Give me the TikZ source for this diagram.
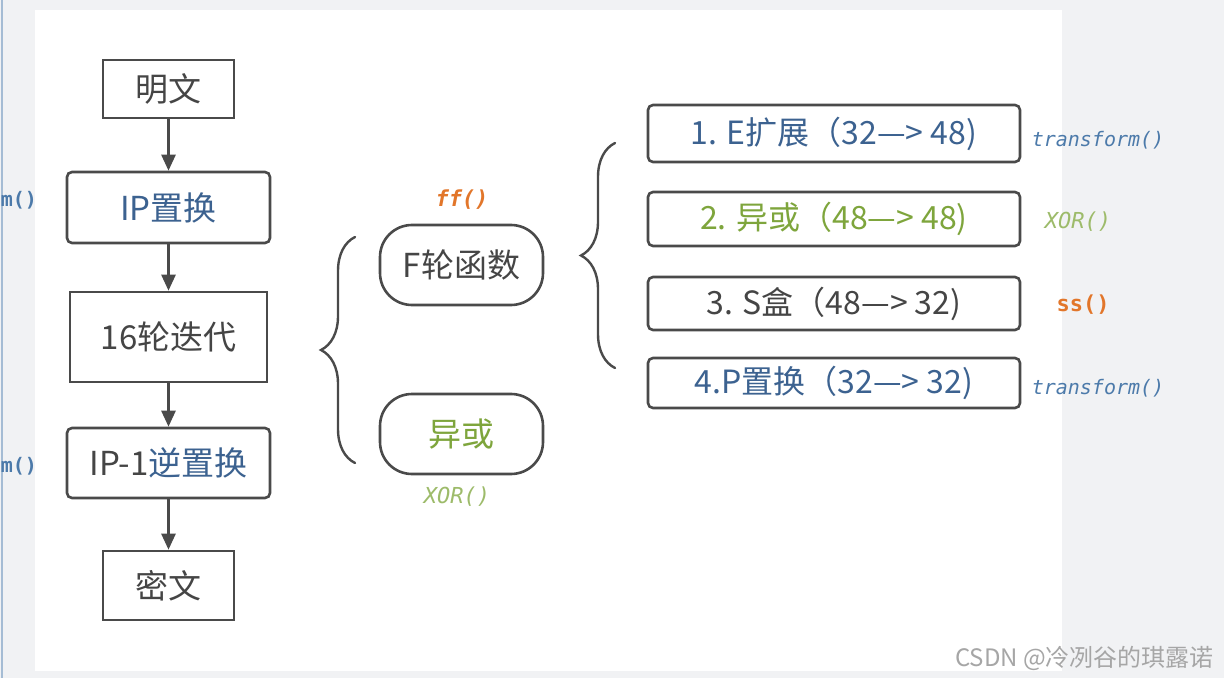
\documentclass[tikz,border=0pt]{standalone}
\usepackage{fontspec}
\setmainfont{Noto Sans CJK SC}
\newfontfamily\codefont{DejaVu Sans Mono}
\usetikzlibrary{arrows.meta, positioning, decorations.pathreplacing}

\definecolor{linegray}{HTML}{4A4A4A}
\definecolor{txtgray}{HTML}{454545}
\definecolor{txtblue}{HTML}{3C6290}
\definecolor{codeblue}{HTML}{4C7AAA}
\definecolor{txtgreen}{HTML}{7EA53C}
\definecolor{codegreen}{HTML}{9DBB6A}
\definecolor{txtorange}{HTML}{E2762A}
\definecolor{sidegray}{HTML}{F1F2F4}

\tikzset{
  box/.style={draw=linegray, line width=1.3pt, inner sep=0pt, text=txtgray,
    font=\fontsize{16.5}{19}\selectfont},
  pill/.style={box, rounded corners=16pt, minimum width=81.5pt, minimum height=40pt},
  stepbox/.style={box, rounded corners=2.5pt, minimum width=186pt,
    font=\fontsize{16}{19}\selectfont},
  code/.style={font=\codefont\itshape\fontsize{10}{12}\selectfont, text=codeblue},
  arr/.style={-{Triangle[width=7pt,length=8pt]}, line width=1.3pt, draw=linegray},
  curly/.style={decorate, decoration={brace, amplitude=17pt, aspect=0.5},
    line width=1.2pt, draw=linegray}
}

\begin{document}
\begin{tikzpicture}[x=0.5pt, y=-0.5pt, line cap=round]

  %--- sfondo
  \clip (0,0) rectangle (1224,678);
  \fill[sidegray] (0,0) rectangle (1224,678);
  \fill[white] (35,10) rectangle (1062,671);
  \draw[codeblue!50, line width=0.8pt] (2,0) -- (2,678);

  %--- colonna di sinistra
  \node[box, minimum width=65.5pt, minimum height=29pt] (mingwen) at (168.5,89) {明文};
  \node[box, rounded corners=2.5pt, minimum width=101.5pt, minimum height=35.5pt, text=txtblue]
    (ipperm) at (168.5,207.5) {IP置换};
  \node[box, minimum width=98.5pt, minimum height=45pt] (rounds) at (168.5,337) {16轮迭代};
  \node[box, rounded corners=2.5pt, minimum width=101.5pt, minimum height=35pt]
    (ipinv) at (168.5,463) {IP-1\textcolor{txtblue}{逆置换}};
  \node[box, minimum width=65.5pt, minimum height=34.5pt] (miwen) at (168.5,585.5) {密文};

  \draw[arr] (mingwen) -- (ipperm);
  \draw[arr] (ipperm) -- (rounds);
  \draw[arr] (rounds) -- (ipinv);
  \draw[arr] (ipinv) -- (miwen);

  % etichette al bordo sinistro
  \node[code, font=\codefont\bfseries\fontsize{10}{12}\selectfont, anchor=east] (lcode1) at (44,200) {m()};
  \node[code, font=\codefont\bfseries\fontsize{10}{12}\selectfont, anchor=east] (lcode2) at (44,466) {m()};

  %--- graffa centrale
  \draw[curly] (355,463) -- (355,237);
  \node[pill] (ffunc) at (461.5,265) {F轮函数};
  \node[pill, text=txtgreen] (xorbox) at (461.5,434) {异或};
  \node[code, font=\codefont\bfseries\itshape\fontsize{11}{13}\selectfont, text=txtorange]
    (ffcode) at (462,200) {ff()};
  \node[code, text=codegreen, font=\codefont\itshape\fontsize{11}{13}\selectfont]
    (xorcode) at (457,497) {XOR()};

  %--- graffa di destra
  \draw[curly] (615,368) -- (615,143);
  \node[stepbox, minimum height=28.5pt, text=txtblue] (ext) at (834,133.5) {1. E扩展（32—> 48)};
  \node[stepbox, minimum height=27pt, text=txtgreen] (xor2) at (834,219) {2. 异或（48—> 48)};
  \node[stepbox, minimum height=26.5pt] (sbox) at (834,303.5) {3. S盒（48—> 32)};
  \node[stepbox, minimum height=25pt, text=txtblue] (pperm) at (834,383) {4.P置换（32—> 32)};

  \node[code] (code1) at (1098,140) {transform()};
  \node[code, text=codegreen, font=\codefont\itshape\fontsize{11}{13}\selectfont] (code2) at (1078,222) {XOR()};
  \node[code, text=txtorange, font=\codefont\bfseries\fontsize{11}{13}\selectfont] (code3) at (1083,305) {ss()};
  \node[code] (code4) at (1098,388) {transform()};

  %--- firma
  \node[anchor=east, text=black!35, font=\fontsize{12}{14}\selectfont] (sign) at (1221,658) {CSDN @冷冽谷的琪露诺};
\end{tikzpicture}
\end{document}
